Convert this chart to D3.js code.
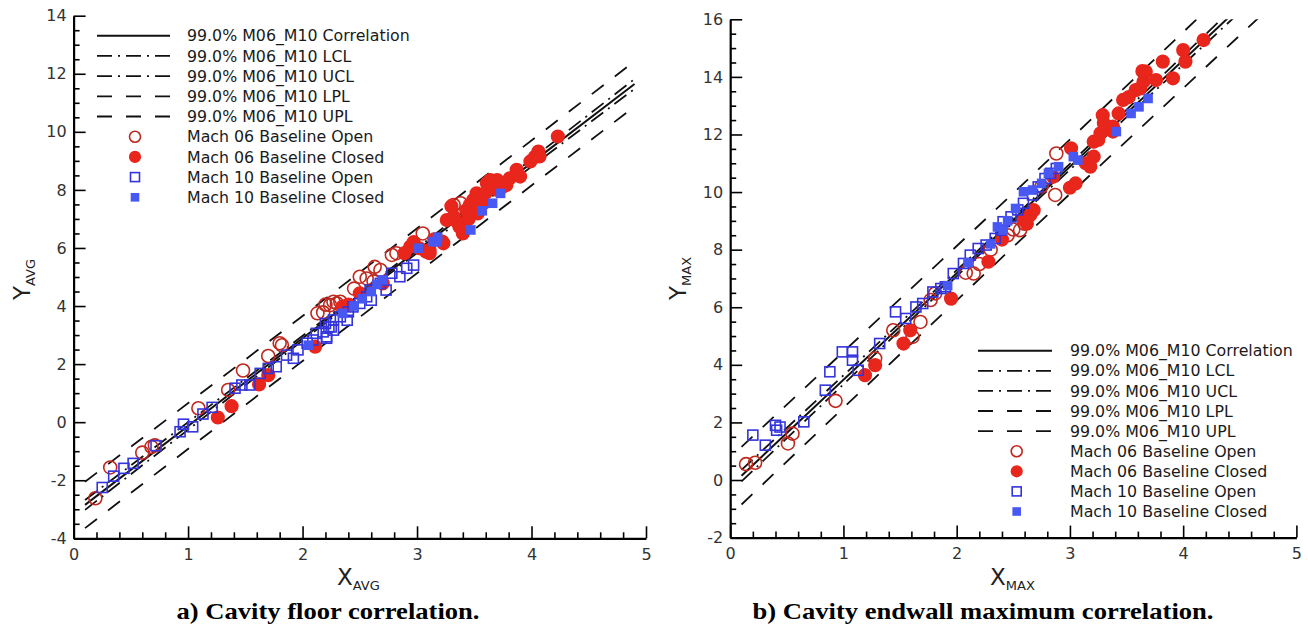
<!DOCTYPE html>
<html><head><meta charset="utf-8">
<script src="https://cdn.jsdelivr.net/npm/d3@7"></script>
<style>
html,body{margin:0;padding:0;background:#fff;}
svg{display:block;}
</style></head>
<body>
<svg id="chart" width="1308" height="628"></svg>
<script>
// ---------------- DATA ----------------
const xTicks = [0, 1, 2, 3, 4, 5];
const xMinorTicks = [0.2,0.4,0.6,0.8,1.2,1.4,1.6,1.8,2.2,2.4,2.6,2.8,3.2,3.4,3.6,3.8,4.2,4.4,4.6,4.8];
const leftYTicks = [-4, -2, 0, 2, 4, 6, 8, 10, 12, 14];
const rightYTicks = [-2, 0, 2, 4, 6, 8, 10, 12, 14, 16];

const legendLabels = [
  "99.0% M06_M10 Correlation",
  "99.0% M06_M10 LCL",
  "99.0% M06_M10 UCL",
  "99.0% M06_M10 LPL",
  "99.0% M06_M10 UPL",
  "Mach 06 Baseline Open",
  "Mach 06 Baseline Closed",
  "Mach 10 Baseline Open",
  "Mach 10 Baseline Closed"
];

// a) Cavity floor correlation  (X_AVG, Y_AVG)
const aCorr = [[0.1,-2.85],[4.9,11.65]];
const aLCL  = [[0.1,-3.02],[2.5,4.34],[4.9,11.48]];
const aUCL  = [[0.1,-2.68],[2.5,4.46],[4.9,11.82]];
const aLPL  = [[0.1,-3.65],[2.5,3.62],[4.9,10.87]];
const aUPL  = [[0.1,-2.05],[2.5,5.16],[4.9,12.43]];

const aM06Open = [[0.19,-2.62],[0.32,-1.56],[0.60,-1.05],[0.68,-0.85],[0.71,-0.80],[1.09,0.48],[1.35,1.11],
  [1.48,1.78],[1.70,2.28],[1.80,2.72],[1.82,2.65],[2.13,3.75],[2.18,3.78],[2.20,4.05],[2.24,4.03],[2.27,4.15],
  [2.30,4.09],[2.33,4.15],[2.45,4.60],[2.50,5.01],[2.56,4.95],[2.62,4.85],[2.63,5.35],[2.68,5.24],[2.78,5.76],
  [2.82,5.82],[3.05,6.50],[3.32,7.48],[3.38,7.54]];
const aM06Closed = [[1.26,0.16],[1.38,0.55],[1.62,1.30],[1.70,1.62],[2.11,2.60],[2.35,3.98],[2.40,4.05],[2.50,4.44],
  [2.70,4.78],[2.89,5.82],[2.94,6.04],[2.97,6.20],[3.02,5.99],[3.08,5.87],[3.11,5.93],[3.11,5.82],[3.15,6.30],
  [3.22,6.22],[3.23,6.16],[3.26,6.96],[3.30,7.44],[3.32,7.08],[3.35,6.90],[3.37,6.73],[3.40,6.50],[3.43,7.30],
  [3.45,7.00],[3.46,7.48],[3.48,7.20],[3.49,7.65],[3.52,7.88],[3.53,7.19],[3.55,7.70],[3.58,7.54],[3.60,7.90],
  [3.61,8.23],[3.64,8.34],[3.67,8.28],[3.70,8.34],[3.70,8.00],[3.75,8.11],[3.78,8.17],[3.81,8.40],[3.87,8.69],
  [3.90,8.46],[3.99,8.98],[4.03,9.14],[4.06,9.32],[4.07,9.15],[4.23,9.84]];
const aM10Open = [[0.25,-2.25],[0.35,-1.86],[0.44,-1.59],[0.52,-1.42],[0.72,-0.81],[0.93,-0.33],[0.96,-0.07],
  [1.04,-0.16],[1.13,0.28],[1.21,0.51],[1.41,1.17],[1.47,1.28],[1.54,1.28],[1.63,1.68],[1.70,1.85],[1.77,1.91],
  [1.86,2.31],[1.92,2.20],[1.96,2.49],[2.04,2.72],[2.09,2.83],[2.12,3.06],[2.18,3.11],[2.21,2.94],[2.21,2.89],
  [2.23,3.29],[2.27,3.52],[2.27,3.17],[2.20,3.40],[2.25,3.28],[2.33,3.63],[2.39,3.51],[2.40,3.80],[2.44,3.97],
  [2.50,4.09],[2.56,4.32],[2.59,4.55],[2.60,4.20],[2.68,4.78],[2.73,4.55],[2.78,5.13],[2.85,5.01],[2.91,5.30],
  [2.97,5.41]];
const aM10Closed = [[2.05,2.65],[2.35,3.75],[2.45,4.00],[2.52,4.25],[2.60,4.50],[2.65,4.75],[2.70,4.90],
  [3.01,5.99],[3.14,6.22],[3.17,6.21],[3.18,6.37],[3.47,6.62],[3.57,7.28],[3.66,7.54],[3.73,7.88]];

// b) Cavity endwall maximum correlation  (X_MAX, Y_MAX)
const bCorr = [[0.1,0.15],[4.9,17.91]];
const bLCL  = [[0.1,-0.05],[2.5,8.95],[4.9,17.71]];
const bUCL  = [[0.1,0.35],[2.5,9.11],[4.9,18.11]];
const bLPL  = [[0.1,-0.85],[2.5,8.10],[4.9,16.91]];
const bUPL  = [[0.1,1.15],[2.5,9.96],[4.9,18.91]];

const bM06Open = [[0.14,0.55],[0.22,0.60],[0.51,1.27],[0.55,1.61],[0.93,2.75],[1.28,4.22],[1.44,5.20],[1.61,4.97],
  [1.68,5.49],[1.77,6.25],[1.81,6.48],[2.08,7.20],[2.15,7.17],[2.20,7.50],[2.30,8.00],[2.45,8.50],[2.50,8.70],
  [2.56,8.68],[2.60,8.90],[2.75,10.20],[2.87,9.90],[2.88,11.34]];
const bM06Closed = [[1.19,3.64],[1.28,3.99],[1.53,4.74],[1.59,5.20],[1.95,6.30],[2.28,7.58],[2.40,8.35],[2.59,9.03],
  [2.62,8.90],[2.65,9.20],[2.68,9.37],[2.85,10.53],[3.00,10.15],[3.01,11.52],[3.05,10.30],[3.14,11.00],[3.18,10.88],
  [3.21,11.23],[3.21,11.75],[3.25,11.81],[3.27,12.04],[3.29,12.67],[3.30,12.39],[3.38,12.27],[3.38,12.10],
  [3.43,12.73],[3.47,13.20],[3.52,13.30],[3.58,13.54],[3.62,13.60],[3.64,14.20],[3.65,13.83],[3.67,14.18],
  [3.76,13.89],[3.82,14.53],[3.91,13.95],[4.00,14.93],[4.02,14.53],[4.18,15.28]];
const bM10Open = [[0.20,1.56],[0.31,1.21],[0.40,1.90],[0.41,1.73],[0.44,1.84],[0.65,2.02],[0.84,3.12],[0.88,3.76],
  [0.99,4.45],[1.08,4.45],[1.08,4.16],[1.13,3.81],[1.32,4.74],[1.46,5.84],[1.55,5.61],[1.64,6.01],[1.70,6.13],
  [1.79,6.53],[1.86,6.65],[1.90,6.71],[1.97,7.17],[2.06,7.52],[2.12,7.81],[2.19,8.04],[2.26,8.16],[2.34,8.39],
  [2.39,8.68],[2.41,8.97],[2.48,9.14],[2.54,9.38],[2.59,9.61],[2.67,9.90],[2.72,10.18],[2.78,10.47],[2.83,10.65],
  [2.88,10.82]];
const bM10Closed = [[1.92,6.75],[2.10,7.55],[2.30,8.20],[2.36,8.79],[2.41,8.68],[2.45,9.00],[2.52,9.43],[2.59,10.01],
  [2.67,10.07],[2.75,10.30],[2.81,10.65],[2.90,10.88],[3.03,11.23],[3.07,11.11],[3.41,12.10],[3.54,12.73],
  [3.61,12.96],[3.69,13.25]];

// ---------------- STYLE ----------------
const FONT = "'DejaVu Sans', Verdana, sans-serif";
const RED_OPEN = "#c0281e", RED_FILL = "#e8261c", BLUE_OPEN = "#3434dc", BLUE_FILL = "#4858f2";
const lineStyles = [
  {dash: null, w: 2},
  {dash: "15,6,2,6", w: 1.8},
  {dash: "15,6,2,6", w: 1.8},
  {dash: "15,14", w: 1.8},
  {dash: "15,14", w: 1.8}
];
const markerStyles = [
  {type: "circle", fill: "none", stroke: RED_OPEN, r: 6.5, lr: 5.5},
  {type: "circle", fill: RED_FILL, stroke: RED_FILL, r: 6.3, lr: 5.3},
  {type: "square", fill: "none", stroke: BLUE_OPEN, s: 10, ls: 9},
  {type: "square", fill: BLUE_FILL, stroke: BLUE_FILL, s: 8, ls: 7}
];

const svg = d3.select("#chart");
svg.append("rect").attr("width", 1308).attr("height", 628).attr("fill", "#fff");

function drawMarker(g, st, cx, cy, legend) {
  if (st.type === "circle") {
    g.append("circle").attr("cx", cx).attr("cy", cy).attr("r", legend ? st.lr : st.r)
      .attr("fill", st.fill).attr("stroke", st.stroke).attr("stroke-width", 1.6);
  } else {
    const s = legend ? st.ls : st.s;
    g.append("rect").attr("x", cx - s / 2).attr("y", cy - s / 2).attr("width", s).attr("height", s)
      .attr("fill", st.fill).attr("stroke", st.stroke).attr("stroke-width", 1.6);
  }
}

function panel(o) {
  const g = svg.append("g");
  const x = d3.scaleLinear().domain([0, 5]).range([o.x0, o.x1]);
  const y = d3.scaleLinear().domain(o.yDomain).range([o.yBot, o.yTop]);

  const cid = "clip" + o.id;
  svg.append("clipPath").attr("id", cid).append("rect")
    .attr("x", o.x0).attr("y", o.yTop).attr("width", o.x1 - o.x0).attr("height", o.yBot - o.yTop);

  // lines
  const line = d3.line().x(d => x(d[0])).y(d => y(d[1]));
  const lg = g.append("g").attr("clip-path", `url(#${cid})`);
  o.lines.forEach((ln, i) => {
    const st = lineStyles[i];
    lg.append("path").attr("d", line(ln)).attr("fill", "none").attr("stroke", "#111")
      .attr("stroke-width", st.w).attr("stroke-dasharray", st.dash);
  });

  // markers
  const mg = g.append("g").attr("clip-path", `url(#${cid})`);
  o.series.forEach((ser, i) => {
    ser.forEach(d => drawMarker(mg, markerStyles[i], x(d[0]), y(d[1]), false));
  });

  // axes
  const yMinor = [];
  for (let k = 0; k < o.yTicks.length - 1; k++) {
    const a = o.yTicks[k];
    yMinor.push(a + 0.5, a + 1, a + 1.5);
  }
  const fmt = d3.format("d");
  const gx1 = g.append("g").attr("transform", `translate(0,${o.yBot})`)
    .call(d3.axisBottom(x).tickValues(xMinorTicks).tickSizeInner(-6).tickSizeOuter(0).tickFormat(""));
  const gx2 = g.append("g").attr("transform", `translate(0,${o.yBot})`)
    .call(d3.axisBottom(x).tickValues(xTicks).tickSizeInner(-12).tickSizeOuter(0).tickPadding(10).tickFormat(fmt));
  const gy1 = g.append("g").attr("transform", `translate(${o.x0},0)`)
    .call(d3.axisLeft(y).tickValues(yMinor).tickSizeInner(-6).tickSizeOuter(0).tickFormat(""));
  const gy2 = g.append("g").attr("transform", `translate(${o.x0},0)`)
    .call(d3.axisLeft(y).tickValues(o.yTicks).tickSizeInner(-12).tickSizeOuter(0).tickPadding(7).tickFormat(fmt));
  [gx1, gx2, gy1, gy2].forEach(a => {
    a.select(".domain").attr("stroke", "#000").attr("stroke-width", 2.2);
    a.selectAll(".tick line").attr("stroke", "#000").attr("stroke-width", 1.6);
    a.selectAll(".tick text").attr("font-family", FONT).attr("font-size", 16).attr("fill", "#333");
  });
  gx1.select(".domain").remove(); gy1.select(".domain").remove();
  gy2.selectAll(".tick text").text(d => fmt(d).replace("\u2212", "-"));

  // axis titles
  const xt = g.append("text").attr("x", o.xTitleX).attr("y", 585).attr("font-family", FONT)
    .attr("fill", "#222").attr("font-size", 23);
  xt.append("tspan").text("X");
  xt.append("tspan").attr("font-size", 13).attr("dy", 5).text(o.sub);

  const yt = g.append("text").attr("transform", `translate(${o.yTitleX},300) rotate(-90)`)
    .attr("font-family", FONT).attr("fill", "#222").attr("font-size", 23);
  yt.append("tspan").text("Y");
  yt.append("tspan").attr("font-size", 13).attr("dy", 5).text(o.sub);

  // legend
  const L = o.legend;
  legendLabels.forEach((lab, i) => {
    const cy = L.y0 + i * L.dy;
    if (i < 5) {
      const st = lineStyles[i];
      g.append("line").attr("x1", L.lx0).attr("x2", L.lx1).attr("y1", cy).attr("y2", cy)
        .attr("stroke", "#111").attr("stroke-width", st.w).attr("stroke-dasharray", st.dash);
    } else {
      drawMarker(g, markerStyles[i - 5], L.mx, cy, true);
    }
    g.append("text").attr("x", L.tx).attr("y", cy).attr("dy", "0.36em")
      .attr("font-family", FONT).attr("font-size", 15.8).attr("fill", "#1a1a1a").text(lab);
  });

  // caption
  svg.append("text").attr("x", o.capX).attr("y", 619).attr("text-anchor", "middle")
    .attr("font-family", "'Liberation Serif', 'Times New Roman', serif").attr("font-weight", "bold")
    .attr("font-size", 23).attr("textLength", o.capLen).attr("lengthAdjust", "spacingAndGlyphs")
    .attr("fill", "#000").text(o.caption);
}

panel({
  id: "a", x0: 73.6, x1: 646, yTop: 15.7, yBot: 538.3, yDomain: [-4, 14], yTicks: leftYTicks,
  lines: [aCorr, aLCL, aUCL, aLPL, aUPL],
  series: [aM06Open, aM06Closed, aM10Open, aM10Closed],
  sub: "AVG", xTitleX: 337, yTitleX: 30,
  legend: {y0: 35.7, dy: 20.2, lx0: 97, lx1: 170, mx: 135, tx: 187},
  caption: "a) Cavity floor correlation.", capX: 328, capLen: 303
});
panel({
  id: "b", x0: 730.2, x1: 1296.4, yTop: 19.3, yBot: 537.6, yDomain: [-2, 16], yTicks: rightYTicks,
  lines: [bCorr, bLCL, bUCL, bLPL, bUPL],
  series: [bM06Open, bM06Closed, bM10Open, bM10Closed],
  sub: "MAX", xTitleX: 990, yTitleX: 686,
  legend: {y0: 350.7, dy: 20.1, lx0: 978, lx1: 1052, mx: 1016.7, tx: 1070},
  caption: "b) Cavity endwall maximum correlation.", capX: 983, capLen: 461
});
</script>
</body></html>
